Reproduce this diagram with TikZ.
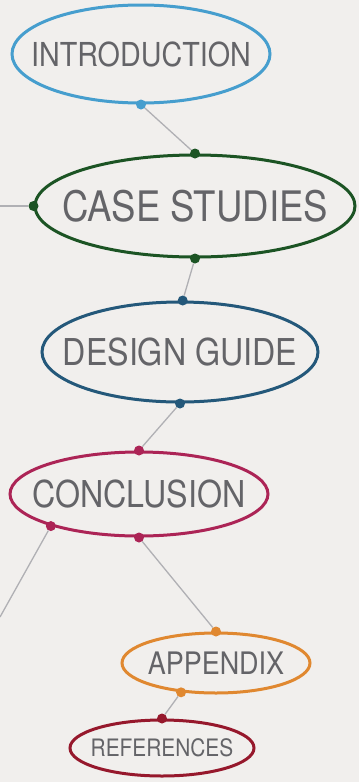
\documentclass[tikz,border=0pt]{standalone}
\usepackage{fontspec}
\setmainfont{TeX Gyre Heros}
\newfontfamily\chapfont{TeX Gyre Heros}[FakeStretch=0.87]
\usetikzlibrary{shapes.geometric}
\definecolor{paper}{RGB}{241,239,237}
\definecolor{inkgray}{RGB}{100,100,104}
\definecolor{linkgray}{RGB}{176,176,180}
\definecolor{introblue}{RGB}{70,158,206}
\definecolor{casegreen}{RGB}{28,84,36}
\definecolor{designblue}{RGB}{36,88,122}
\definecolor{conccrimson}{RGB}{172,36,86}
\definecolor{apporange}{RGB}{224,136,48}
\definecolor{refsred}{RGB}{150,24,44}
\def\chapsize#1{\chapfont\fontsize{#1}{#1}\selectfont}

\begin{document}
\begin{tikzpicture}[x=1pt,y=-1pt,
			chap/.style={ellipse,draw=#1,line width=3pt,inner sep=0pt},
			dot/.style={circle,fill=#1,minimum size=10pt,inner sep=0pt},
			link/.style={-,draw=linkgray,line width=1.3pt},
			txt/.style={text=inkgray,inner sep=0pt}]
			\fill [paper] (0,0) rectangle (359,782);
			\useasboundingbox (0,0) rectangle (359,782);
			\node [chap=introblue,minimum width=258pt,minimum height=98pt]	(intro)		at (141,54)
				[label={[txt,font=\chapsize{33}]center:INTRODUCTION}] {};
			\node [chap=casegreen,minimum width=320pt,minimum height=102pt]	(case)		at (195,206)
				[label={[txt,font=\chapsize{42}]center:CASE STUDIES}] {};
			\node [chap=designblue,minimum width=276pt,minimum height=100pt]	(design)	at (180,352)
				[label={[txt,font=\chapsize{37}]center:DESIGN GUIDE}] {};
			\node [chap=conccrimson,minimum width=258pt,minimum height=84pt]	(conc)		at (139,494)
				[label={[txt,font=\chapsize{37}]center:CONCLUSION}] {};
			\node [chap=apporange,minimum width=188pt,minimum height=60pt]	(app)		at (216,663)
				[label={[txt,font=\chapsize{31}]center:APPENDIX}] {};
			\node [chap=refsred,minimum width=184pt,minimum height=56pt]	(refs)		at (162,748)
				[label={[txt,font=\chapsize{24}]center:REFERENCES}] {};
			\coordinate (caseEnd) at (0,206);
			\coordinate (concEnd) at (0,617);
			\node [dot=introblue]		(introS)	at (intro.south)	{};
			\node [dot=casegreen]		(caseN)		at (case.north)		{}
				edge [link] (introS);
			\node [dot=casegreen]		(caseW)		at (case.west)		{}
				edge [link] (caseEnd);
			\node [dot=casegreen]		(caseS)		at (case.south)		{};
			\node [dot=designblue]		(designN)	at (design.87)		{}
				edge [link] (caseS);
			\node [dot=designblue]		(designS)	at (design.south)	{};
			\node [dot=conccrimson]		(concN)		at (conc.north)		{}
				edge [link] (designS);
			\node [dot=conccrimson]		(concSW)	at (conc.200)		{}
				edge [link] (concEnd);
			\node [dot=conccrimson]		(concS)		at (conc.south)		{};
			\node [dot=apporange]		(appN)		at (app.north)		{}
				edge [link] (concS);
			\node [dot=apporange]		(appS)		at (app.220)		{};
			\node [dot=refsred]			(refsN)		at (refs.north)		{}
				edge [link] (appS);
\end{tikzpicture}
\end{document}
